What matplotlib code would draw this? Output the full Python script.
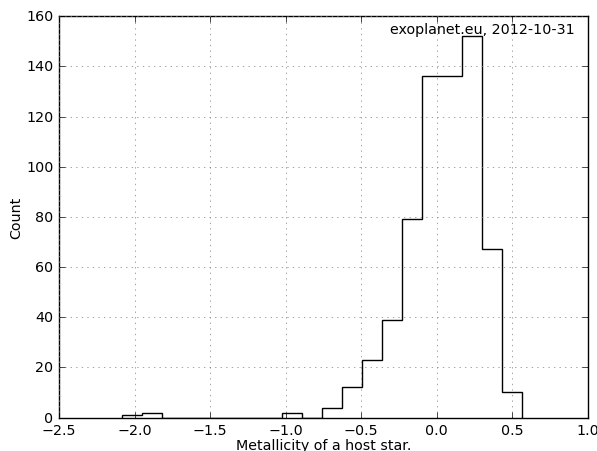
import matplotlib
matplotlib.use("Agg")
import matplotlib.pyplot as plt

# 20 equal bins between the smallest and largest metallicity
bin_edges = [-2.086, -1.9535, -1.821, -1.6885, -1.556, -1.4235, -1.291,
             -1.1585, -1.026, -0.8935, -0.761, -0.6285, -0.496, -0.3635,
             -0.231, -0.0985, 0.034, 0.1665, 0.299, 0.4315, 0.564]
counts = [1, 2, 0, 0, 0, 0, 0, 0, 2, 0, 4, 12, 23, 39, 79, 136, 136, 152, 67, 10]
source_label = "exoplanet.eu, 2012-10-31"

plt.style.use("classic")
plt.rcParams["font.size"] = 10.3
fig = plt.figure(figsize=(5.97, 4.52), dpi=100, facecolor="white")
ax = fig.add_axes([0.0988, 0.074, 0.886, 0.888])

ax.hist(bin_edges[:-1], bins=bin_edges, weights=counts, histtype="step", color="black")
ax.set_xlim(-2.5, 1.0)
ax.set_ylim(0, 160)
ax.grid(True, color="0.5")
ax.set_xlabel("Metallicity of a host star.", labelpad=1)
ax.set_ylabel("Count", labelpad=2)
ax.text(0.975, 0.985, source_label, transform=ax.transAxes, ha="right", va="top")

fig.savefig("out.png", dpi=100, facecolor="white")
